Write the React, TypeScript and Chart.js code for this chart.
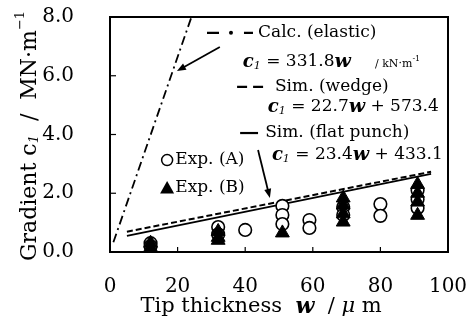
import React, { useEffect, useRef } from "react";
import { Chart, registerables } from "chart.js";

Chart.register(...registerables);

// ---------------- data ----------------
const xTickValues = [0, 20, 40, 60, 80, 100];
const yTickValues = [0, 2, 4, 6, 8];

// Exp. (A) open circles
const expAX = [12, 12, 32, 32, 40, 51, 51, 51, 59, 59, 69, 69, 80, 80, 91, 91, 91];
const expAY = [0.3, 0.2, 0.85, 0.6, 0.75, 1.57, 1.26, 0.95, 1.09, 0.82, 1.53, 1.26, 1.63, 1.23, 2.1, 1.8, 1.5];
// Exp. (B) filled triangles
const expBX = [12, 12, 32, 32, 32, 51, 69, 69, 69, 69, 91, 91, 91, 91];
const expBY = [0.15, 0.3, 0.7, 0.5, 0.4, 0.65, 1.84, 1.6, 1.3, 1.02, 2.3, 2.0, 1.7, 1.25];

// model lines (end points)
const elasticX = [1, 24.1];
const elasticY = [0.33, 8.0];
const wedgeX = [5, 95];
const wedgeY = [0.69, 2.73];
const punchX = [5, 95];
const punchY = [0.55, 2.66];

const legendLabels = ["Calc. (elastic)", "Sim. (wedge)", "Sim. (flat punch)", "Exp. (A)", "Exp. (B)"];
const eqElastic = "331.8";
const eqWedge = ["22.7", "573.4"];
const eqPunch = ["23.4", "433.1"];
const unitNote = "/ kN·m";

const xTitle = ["Tip thickness  ", "w", "  / ", "μ", " m"];
const yTitle = ["Gradient ", "c", "1", "  /  MN·m", "−1"];

// ---------------- styles / layout ----------------
const FONT = '"DejaVu Serif", "Liberation Serif", serif';
const fnt = (size: number, style = "") => `${style} ${size}px ${FONT}`.trim();

const pts = (xs: number[], ys: number[]) => xs.map((x, i) => ({ x, y: ys[i] }));

// annotation anchors in data coordinates
const ann = {
  elasticSample: [28.7, 42.3, 7.46],
  elasticText: [43.8, 7.46],
  eq1: [39.3, 6.47],
  unit: [78.4, 6.4],
  wedgeSample: [37.6, 45.9, 5.62],
  wedgeText: [48.8, 5.62],
  eq2: [46.7, 4.94],
  punchSample: [38.5, 43.8, 4.05],
  punchText: [45.9, 4.05],
  eq3: [47.9, 3.3],
  expA: [16.9, 19.3, 3.13],
  expB: [16.9, 19.3, 2.18],
  arrow1: [32.5, 6.98, 19.8, 6.16],
  arrow2: [43.8, 3.47, 47.3, 1.84],
  xTitleCenter: [44.7],
  yTitleCenter: [3.95],
};

type Run = { t: string; font: string; dy?: number };

function runsWidth(ctx: CanvasRenderingContext2D, runs: Run[]) {
  let w = 0;
  for (const r of runs) {
    ctx.font = r.font;
    w += ctx.measureText(r.t).width;
  }
  return w;
}
function drawRuns(ctx: CanvasRenderingContext2D, x: number, y: number, runs: Run[]) {
  let cx = x;
  for (const r of runs) {
    ctx.font = r.font;
    ctx.fillText(r.t, cx, y + (r.dy || 0));
    cx += ctx.measureText(r.t).width;
  }
  return cx;
}
function eqRuns(a: string, b?: string): Run[] {
  const r: Run[] = [
    { t: "c", font: fnt(18, "italic bold") },
    { t: "1", font: fnt(11, "italic"), dy: 4 },
    { t: " = " + a, font: fnt(17) },
    { t: "w", font: fnt(19, "italic bold") },
  ];
  if (b) r.push({ t: " + " + b, font: fnt(17) });
  return r;
}
function arrow(ctx: CanvasRenderingContext2D, x1: number, y1: number, x2: number, y2: number) {
  const a = Math.atan2(y2 - y1, x2 - x1);
  const hl = 9;
  const hw = 3.5;
  ctx.beginPath();
  ctx.moveTo(x1, y1);
  ctx.lineTo(x2 - Math.cos(a) * hl * 0.8, y2 - Math.sin(a) * hl * 0.8);
  ctx.lineWidth = 1.8;
  ctx.stroke();
  ctx.beginPath();
  ctx.moveTo(x2, y2);
  ctx.lineTo(x2 - Math.cos(a) * hl - Math.sin(a) * hw, y2 - Math.sin(a) * hl + Math.cos(a) * hw);
  ctx.lineTo(x2 - Math.cos(a) * hl + Math.sin(a) * hw, y2 - Math.sin(a) * hl - Math.cos(a) * hw);
  ctx.closePath();
  ctx.fill();
}

const decorPlugin = {
  id: "decor",
  afterDraw(chart: any) {
    const ctx: CanvasRenderingContext2D = chart.ctx;
    const xs = chart.scales.x;
    const ys = chart.scales.y;
    const { left, right, top, bottom } = chart.chartArea;
    const X = (v: number) => xs.getPixelForValue(v);
    const Y = (v: number) => ys.getPixelForValue(v);
    ctx.save();
    ctx.strokeStyle = "#000";
    ctx.fillStyle = "#000";
    ctx.setLineDash([]);

    // frame
    ctx.lineWidth = 2;
    ctx.strokeRect(left, top, right - left, bottom - top);
    // inward ticks
    ctx.lineWidth = 1.2;
    for (const t of xs.ticks) {
      if (t.value <= xs.min || t.value >= xs.max) continue;
      const px = X(t.value);
      ctx.beginPath();
      ctx.moveTo(px, bottom);
      ctx.lineTo(px, bottom - 5);
      ctx.stroke();
    }
    for (const t of ys.ticks) {
      if (t.value <= ys.min || t.value >= ys.max) continue;
      const py = Y(t.value);
      ctx.beginPath();
      ctx.moveTo(left, py);
      ctx.lineTo(left + 6, py);
      ctx.stroke();
    }

    ctx.textBaseline = "middle";
    ctx.textAlign = "left";

    // legend: elastic
    let s = ann.elasticSample;
    ctx.lineWidth = 2.2;
    ctx.beginPath();
    ctx.moveTo(X(s[0]), Y(s[2]));
    ctx.lineTo(X(s[0]) + 12, Y(s[2]));
    ctx.moveTo(X(s[1]) - 9, Y(s[2]));
    ctx.lineTo(X(s[1]), Y(s[2]));
    ctx.stroke();
    ctx.beginPath();
    ctx.arc((X(s[0]) + X(s[1])) / 2 + 1, Y(s[2]), 2, 0, Math.PI * 2);
    ctx.fill();
    drawRuns(ctx, X(ann.elasticText[0]), Y(ann.elasticText[1]), [{ t: legendLabels[0], font: fnt(17) }]);
    drawRuns(ctx, X(ann.eq1[0]), Y(ann.eq1[1]), eqRuns(eqElastic));
    drawRuns(ctx, X(ann.unit[0]), Y(ann.unit[1]), [
      { t: unitNote, font: fnt(11) },
      { t: "-1", font: fnt(8), dy: -5 },
    ]);

    // legend: wedge
    s = ann.wedgeSample;
    ctx.lineWidth = 2.2;
    ctx.setLineDash([10, 6]);
    ctx.beginPath();
    ctx.moveTo(X(s[0]), Y(s[2]));
    ctx.lineTo(X(s[1]), Y(s[2]));
    ctx.stroke();
    ctx.setLineDash([]);
    drawRuns(ctx, X(ann.wedgeText[0]), Y(ann.wedgeText[1]), [{ t: legendLabels[1], font: fnt(17) }]);
    drawRuns(ctx, X(ann.eq2[0]), Y(ann.eq2[1]), eqRuns(eqWedge[0], eqWedge[1]));

    // legend: flat punch
    s = ann.punchSample;
    ctx.beginPath();
    ctx.moveTo(X(s[0]), Y(s[2]));
    ctx.lineTo(X(s[1]), Y(s[2]));
    ctx.stroke();
    drawRuns(ctx, X(ann.punchText[0]), Y(ann.punchText[1]), [{ t: legendLabels[2], font: fnt(17) }]);
    drawRuns(ctx, X(ann.eq3[0]), Y(ann.eq3[1]), eqRuns(eqPunch[0], eqPunch[1]));

    // legend: experiments
    s = ann.expA;
    ctx.lineWidth = 1.5;
    ctx.beginPath();
    ctx.arc(X(s[0]), Y(s[2]), 5.5, 0, Math.PI * 2);
    ctx.stroke();
    drawRuns(ctx, X(s[1]), Y(s[2]), [{ t: legendLabels[3], font: fnt(17) }]);
    s = ann.expB;
    const cx = X(s[0]);
    const cy = Y(s[2]);
    ctx.beginPath();
    ctx.moveTo(cx, cy - 7);
    ctx.lineTo(cx + 7, cy + 5.5);
    ctx.lineTo(cx - 7, cy + 5.5);
    ctx.closePath();
    ctx.fill();
    drawRuns(ctx, X(s[1]), Y(s[2]), [{ t: legendLabels[4], font: fnt(17) }]);

    // arrows
    const a1 = ann.arrow1;
    arrow(ctx, X(a1[0]), Y(a1[1]), X(a1[2]), Y(a1[3]));
    const a2 = ann.arrow2;
    arrow(ctx, X(a2[0]), Y(a2[1]), X(a2[2]), Y(a2[3]));

    // x title
    const xr: Run[] = [
      { t: xTitle[0], font: fnt(21) },
      { t: xTitle[1], font: fnt(22, "italic bold") },
      { t: xTitle[2], font: fnt(21) },
      { t: xTitle[3], font: fnt(21, "italic") },
      { t: xTitle[4], font: fnt(21) },
    ];
    const xw = runsWidth(ctx, xr);
    drawRuns(ctx, X(ann.xTitleCenter[0]) - xw / 2, 307, xr);

    // y title
    const yr: Run[] = [
      { t: yTitle[0], font: fnt(22) },
      { t: yTitle[1], font: fnt(22) },
      { t: yTitle[2], font: fnt(13, "italic"), dy: 5 },
      { t: yTitle[3], font: fnt(22) },
      { t: yTitle[4], font: fnt(13), dy: -9 },
    ];
    const yw = runsWidth(ctx, yr);
    ctx.translate(30, Y(ann.yTitleCenter[0]));
    ctx.rotate(-Math.PI / 2);
    drawRuns(ctx, -yw / 2, 0, yr);
    ctx.restore();
  },
};

export default function App() {
  const ref = useRef<HTMLCanvasElement | null>(null);
  useEffect(() => {
    if (!ref.current) return;
    const chart = new Chart(ref.current, {
      type: "scatter",
      data: {
        datasets: [
          {
            label: legendLabels[3],
            data: pts(expAX, expAY),
            pointStyle: "circle",
            pointRadius: 6.3,
            pointBorderWidth: 1.6,
            pointBackgroundColor: "#fff",
            pointBorderColor: "#000",
            order: 1,
          },
          {
            label: legendLabels[4],
            data: pts(expBX, expBY),
            pointStyle: "triangle",
            pointRadius: 8,
            pointBorderWidth: 1,
            pointBackgroundColor: "#000",
            pointBorderColor: "#000",
            order: 0,
          },
          {
            label: legendLabels[1],
            data: pts(wedgeX, wedgeY),
            showLine: true,
            pointRadius: 0,
            borderColor: "#000",
            borderWidth: 2,
            borderDash: [6, 3],
            order: 2,
          },
          {
            label: legendLabels[2],
            data: pts(punchX, punchY),
            showLine: true,
            pointRadius: 0,
            borderColor: "#000",
            borderWidth: 1.8,
            order: 3,
          },
          {
            label: legendLabels[0],
            data: pts(elasticX, elasticY),
            showLine: true,
            pointRadius: 0,
            borderColor: "#000",
            borderWidth: 1.8,
            borderDash: [9, 4, 2, 4],
            order: 4,
          },
        ],
      },
      options: {
        responsive: false,
        animation: false,
        layout: { padding: { left: 0, right: 21, top: 17, bottom: 0 } },
        plugins: { legend: { display: false }, tooltip: { enabled: false } },
        scales: {
          x: {
            type: "linear",
            min: 0,
            max: 100,
            afterBuildTicks: (sc: any) => {
              sc.ticks = xTickValues.map((v) => ({ value: v }));
            },
            afterFit: (sc: any) => {
              sc.height = 71;
              sc.paddingLeft = 0;
              sc.paddingRight = 0;
            },
            grid: { display: false },
            border: { display: false },
            ticks: {
              color: "#000",
              font: { family: FONT, size: 20 },
              padding: 15,
              maxRotation: 0,
              callback: (v: any) => String(v),
            },
          },
          y: {
            type: "linear",
            min: 0,
            max: 8,
            afterBuildTicks: (sc: any) => {
              sc.ticks = yTickValues.map((v) => ({ value: v }));
            },
            afterFit: (sc: any) => {
              sc.width = 110;
              sc.paddingTop = 0;
              sc.paddingBottom = 0;
            },
            grid: { display: false },
            border: { display: false },
            ticks: {
              color: "#000",
              font: { family: FONT, size: 20 },
              padding: 28,
              callback: (v: any) => Number(v).toFixed(1),
            },
          },
        },
      },
      plugins: [decorPlugin],
    } as any);
    return () => chart.destroy();
  }, []);
  return (
    <div style={{ position: "absolute", left: 0, top: 0, width: 469, height: 323, background: "#fff" }}>
      <canvas ref={ref} width={469} height={323} />
    </div>
  );
}
